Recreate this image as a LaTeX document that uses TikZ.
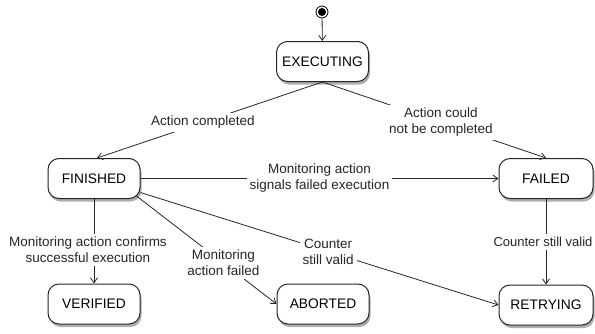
\documentclass[tikz,border=0pt]{standalone}
\usepackage{fontspec}
\setmainfont{Liberation Sans}
\usetikzlibrary{arrows.meta,shadows,calc}
\begin{document}
\begin{tikzpicture}[x=1pt,y=-1pt,
  state/.style={draw=black!85, line width=1pt, fill=white, rounded corners=11pt,
    minimum width=92pt, minimum height=40pt, inner sep=0pt,
    font=\fontsize{13.8}{16}\selectfont,
    drop shadow={shadow xshift=1.5pt,shadow yshift=-3pt,opacity=0.45,fill=black!70}},
  trans/.style={draw=black!85, line width=0.8pt, -{Straight Barb[length=5pt,width=7pt]}},
  lbl/.style={fill=white, inner sep=3pt, align=center,
    font=\fontsize{13.5}{16}\selectfont, text=black!85}
]
\useasboundingbox (0,0) rectangle (595,333);
% states
\node[state] (exe) at (322.5,61.5) {EXECUTING};
\node[state] (fin) at (94,178.5) {FINISHED};
\node[state, minimum width=94pt] (fail) at (546,178.5) {FAILED};
\node[state] (ver) at (94,304) {VERIFIED};
\node[state] (abo) at (323,304) {ABORTED};
\node[state, minimum width=94pt] (ret) at (546,305) {RETRYING};
% initial state
\node[circle, draw=black, line width=0.8pt, fill=white, minimum size=12pt, inner sep=0pt] (init) at (322,12) {};
\node[circle, fill=black, minimum size=8pt, inner sep=0pt] (initdot) at (init.center) {};
% transitions
\draw[trans] (init) -- (exe);
\draw[trans] (exe.south) -- node[lbl, pos=0.53] (l1) {Action completed} ($(fin.north)+(3,0)$);
\draw[trans] (exe.south) -- node[lbl, pos=0.53] (l2) {Action could\\not be completed} (fail.north);
\draw[trans] (fin.east) -- node[lbl, pos=0.5] (l3) {Monitoring action\\signals failed execution} (fail.west);
\draw[trans] (fin.south) -- node[lbl, pos=0.6, xshift=-6pt] (l4) {Monitoring action confirms\\successful execution} (ver.north);
\draw[trans] ($(fin.south east)+(-4,-3)$) -- node[lbl, pos=0.62] (l5) {Monitoring\\action failed} (abo.west);
\draw[trans] ($(fin.east)+(0,14)$) -- node[lbl, pos=0.524] (l6) {Counter\\still valid} (ret.west);
\draw[trans] (fail.south) -- node[lbl, pos=0.5, xshift=-3pt, font=\fontsize{13}{16}\selectfont] (l7) {Counter still valid} (ret.north);
\end{tikzpicture}
\end{document}
